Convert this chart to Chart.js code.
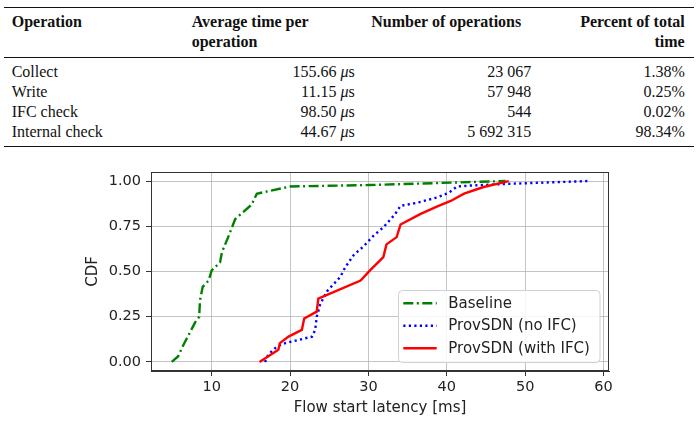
<!DOCTYPE html>
<html>
<head>
<meta charset="utf-8">
<script src="https://cdn.jsdelivr.net/npm/chart.js@4"></script>
<style>
  html, body { margin: 0; padding: 0; background: #fff; }
  #page { position: relative; width: 698px; height: 427px; overflow: hidden; }
  .t { position: absolute; font-family: "Liberation Serif", "DejaVu Serif", serif; font-size: 16px; line-height: 16px; color: #111; white-space: nowrap; }
  .b { font-weight: bold; }
  .r { text-align: right; }
  .rule { position: absolute; left: 4px; width: 690px; background: #111; }
  #chart-box { position: absolute; left: 0; top: 150px; width: 698px; height: 277px; }
</style>
</head>
<body>
<div id="page">
  <div id="table"></div>
  <div id="chart-box"><canvas id="cdf-chart"></canvas></div>
</div>
<script>
// --- table data ---
const operations = ['Collect', 'Write', 'IFC check', 'Internal check'];
const avgTimes = ['155.66', '11.15', '98.50', '44.67'];
const opCounts = ['23 067', '57 948', '544', '5 692 315'];
const percents = ['1.38%', '0.25%', '0.02%', '98.34%'];

// --- chart data (flow start latency CDF) ---
const baselineX = [4.9, 5.7, 6.4, 7.9, 8.4, 8.5, 8.85, 9.6, 10.0, 11.06, 11.3, 12.1, 13.0, 15.1, 15.75, 20.0, 30.2, 47.5];
const baselineY = [0, 0.03, 0.095, 0.22, 0.25, 0.34, 0.415, 0.45, 0.506, 0.55, 0.607, 0.69, 0.79, 0.87, 0.93, 0.97, 0.978, 1.0];

const noIfcX = [16.8, 17.2, 18.3, 19.4, 21.1, 22.8, 23.2, 23.4, 23.85, 24.7, 26.4, 27.05, 28.1, 29.4, 30.7, 31.9, 33.4, 34.1, 36.2, 38.8, 40.3, 41.3, 43.0, 48.1, 58.0];
const noIfcY = [0, 0.04, 0.085, 0.104, 0.122, 0.14, 0.177, 0.25, 0.32, 0.39, 0.47, 0.524, 0.59, 0.64, 0.70, 0.744, 0.817, 0.863, 0.88, 0.91, 0.936, 0.97, 0.975, 0.985, 1.0];

const withIfcX = [16.1, 18.5, 18.7, 19.8, 21.5, 21.8, 23.4, 23.6, 29.0, 30.2, 31.9, 32.3, 33.6, 34.1, 36.6, 38.8, 40.5, 42.2, 44.7, 47.9];
const withIfcY = [0, 0.067, 0.104, 0.14, 0.177, 0.24, 0.278, 0.35, 0.45, 0.506, 0.58, 0.65, 0.69, 0.76, 0.817, 0.86, 0.89, 0.93, 0.967, 1.0];

const seriesLabels = ['Baseline', 'ProvSDN (no IFC)', 'ProvSDN (with IFC)'];
const xTicks = [10, 20, 30, 40, 50, 60];
const yTicks = [0, 0.25, 0.5, 0.75, 1.0];

// --- build the table ---
const table = document.getElementById('table');

function addText(html, x, baseline, opts) {
    const el = document.createElement('div');
    el.className = 't' + (opts && opts.bold ? ' b' : '');
    el.innerHTML = html;
    el.style.top = (baseline - 13.4) + 'px';
    if (opts && opts.right) {
        el.style.right = (698 - x) + 'px';
        el.style.textAlign = 'right';
    } else {
        el.style.left = x + 'px';
    }
    table.appendChild(el);
}

function addRule(y, h) {
    const el = document.createElement('div');
    el.className = 'rule';
    el.style.top = y + 'px';
    el.style.height = h + 'px';
    table.appendChild(el);
}

addRule(6.5, 1.6);
addRule(56.6, 0.9);
addRule(145.8, 1.6);

addText('Operation', 11.7, 27.3, { bold: true });
addText('Average time per', 191.7, 27.3, { bold: true });
addText('operation', 191.7, 47.3, { bold: true });
addText('Number of operations', 371.3, 27.3, { bold: true });
addText('Percent of total', 684.7, 27.3, { bold: true, right: true });
addText('time', 684.7, 47.3, { bold: true, right: true });

operations.forEach((op, i) => {
    const base = 77 + i * 20;
    addText(op, 11.7, base);
    addText(avgTimes[i] + ' <i>&mu;</i>s', 354.7, base, { right: true });
    addText(opCounts[i], 531.3, base, { right: true });
    addText(percents[i], 684.7, base, { right: true });
});

// --- chart ---
function toPoints(xs, ys) {
    return xs.map((x, i) => ({ x: x, y: ys[i] }));
}

const frameAndLegend = {
    id: 'frameAndLegend',
    afterDraw(chart) {
        const ctx = chart.ctx;
        const a = chart.chartArea;
        ctx.save();
        // full box like matplotlib spines
        ctx.strokeStyle = '#333';
        ctx.lineWidth = 1;
        ctx.strokeRect(a.left + 0.5, a.top + 0.5, a.right - a.left - 1, a.bottom - a.top - 1);

        // legend in lower right corner of the plot
        const bx = 398.5, by = 140.5, bw = 201.5, bh = 72;
        const r = 4;
        ctx.beginPath();
        ctx.moveTo(bx + r, by);
        ctx.lineTo(bx + bw - r, by);
        ctx.quadraticCurveTo(bx + bw, by, bx + bw, by + r);
        ctx.lineTo(bx + bw, by + bh - r);
        ctx.quadraticCurveTo(bx + bw, by + bh, bx + bw - r, by + bh);
        ctx.lineTo(bx + r, by + bh);
        ctx.quadraticCurveTo(bx, by + bh, bx, by + bh - r);
        ctx.lineTo(bx, by + r);
        ctx.quadraticCurveTo(bx, by, bx + r, by);
        ctx.closePath();
        ctx.fillStyle = 'rgba(255,255,255,0.85)';
        ctx.fill();
        ctx.strokeStyle = '#d0d0d0';
        ctx.lineWidth = 1;
        ctx.stroke();

        ctx.font = '15px "DejaVu Sans"';
        ctx.textBaseline = 'middle';
        ctx.fillStyle = '#222';
        chart.data.datasets.forEach((ds, i) => {
            const cy = 153.3 + i * 22.5;
            ctx.beginPath();
            ctx.setLineDash(ds.borderDash || []);
            ctx.strokeStyle = ds.borderColor;
            ctx.lineWidth = ds.borderWidth;
            ctx.moveTo(403.3, cy);
            ctx.lineTo(436.7, cy);
            ctx.stroke();
            ctx.setLineDash([]);
            ctx.fillText(ds.label, 448.3, cy + 0.5);
        });
        ctx.restore();
    }
};

const tickFont = { family: 'DejaVu Sans', size: 14.5 };
const titleFont = { family: 'DejaVu Sans', size: 15 };

new Chart(document.getElementById('cdf-chart'), {
    type: 'scatter',
    data: {
        datasets: [
            {
                label: seriesLabels[0],
                data: toPoints(baselineX, baselineY),
                borderColor: '#008000',
                borderWidth: 2.4,
                borderDash: [10, 3.5, 2, 3.5],
                showLine: true,
                pointRadius: 0,
                order: 3
            },
            {
                label: seriesLabels[1],
                data: toPoints(noIfcX, noIfcY),
                borderColor: '#0000ff',
                borderWidth: 2.4,
                borderDash: [2.2, 3.3],
                showLine: true,
                pointRadius: 0,
                order: 2
            },
            {
                label: seriesLabels[2],
                data: toPoints(withIfcX, withIfcY),
                borderColor: '#ff0000',
                borderWidth: 2.4,
                showLine: true,
                pointRadius: 0,
                order: 1
            }
        ]
    },
    options: {
        responsive: true,
        maintainAspectRatio: false,
        animation: false,
        layout: { padding: { top: 22, right: 89, left: 0, bottom: 0 } },
        plugins: {
            legend: { display: false },
            tooltip: { enabled: false }
        },
        scales: {
            x: {
                type: 'linear',
                min: 2.25,
                max: 60.7,
                afterBuildTicks: (scale) => { scale.ticks = xTicks.map(v => ({ value: v })); },
                afterFit: (scale) => { scale.height = 56; },
                ticks: { font: tickFont, color: '#222', padding: 2.5, maxRotation: 0 },
                grid: { color: 'rgba(176,176,176,0.75)', lineWidth: 1, tickLength: 5, tickColor: '#333' },
                border: { display: true, color: '#333' },
                title: { display: true, text: 'Flow start latency [ms]', font: titleFont, color: '#222', padding: { top: 0, bottom: 10.3 } }
            },
            y: {
                type: 'linear',
                min: -0.05,
                max: 1.05,
                afterBuildTicks: (scale) => { scale.ticks = yTicks.map(v => ({ value: v })); },
                afterFit: (scale) => { scale.width = 151; },
                ticks: { font: tickFont, color: '#222', padding: 5, callback: (v) => Number(v).toFixed(2) },
                grid: { color: 'rgba(176,176,176,0.75)', lineWidth: 1, tickLength: 5, tickColor: '#333' },
                border: { display: true, color: '#333' },
                title: { display: true, text: 'CDF', font: titleFont, color: '#222', padding: { top: 84, bottom: 0 } }
            }
        }
    },
    plugins: [frameAndLegend]
});
</script>
</body>
</html>
